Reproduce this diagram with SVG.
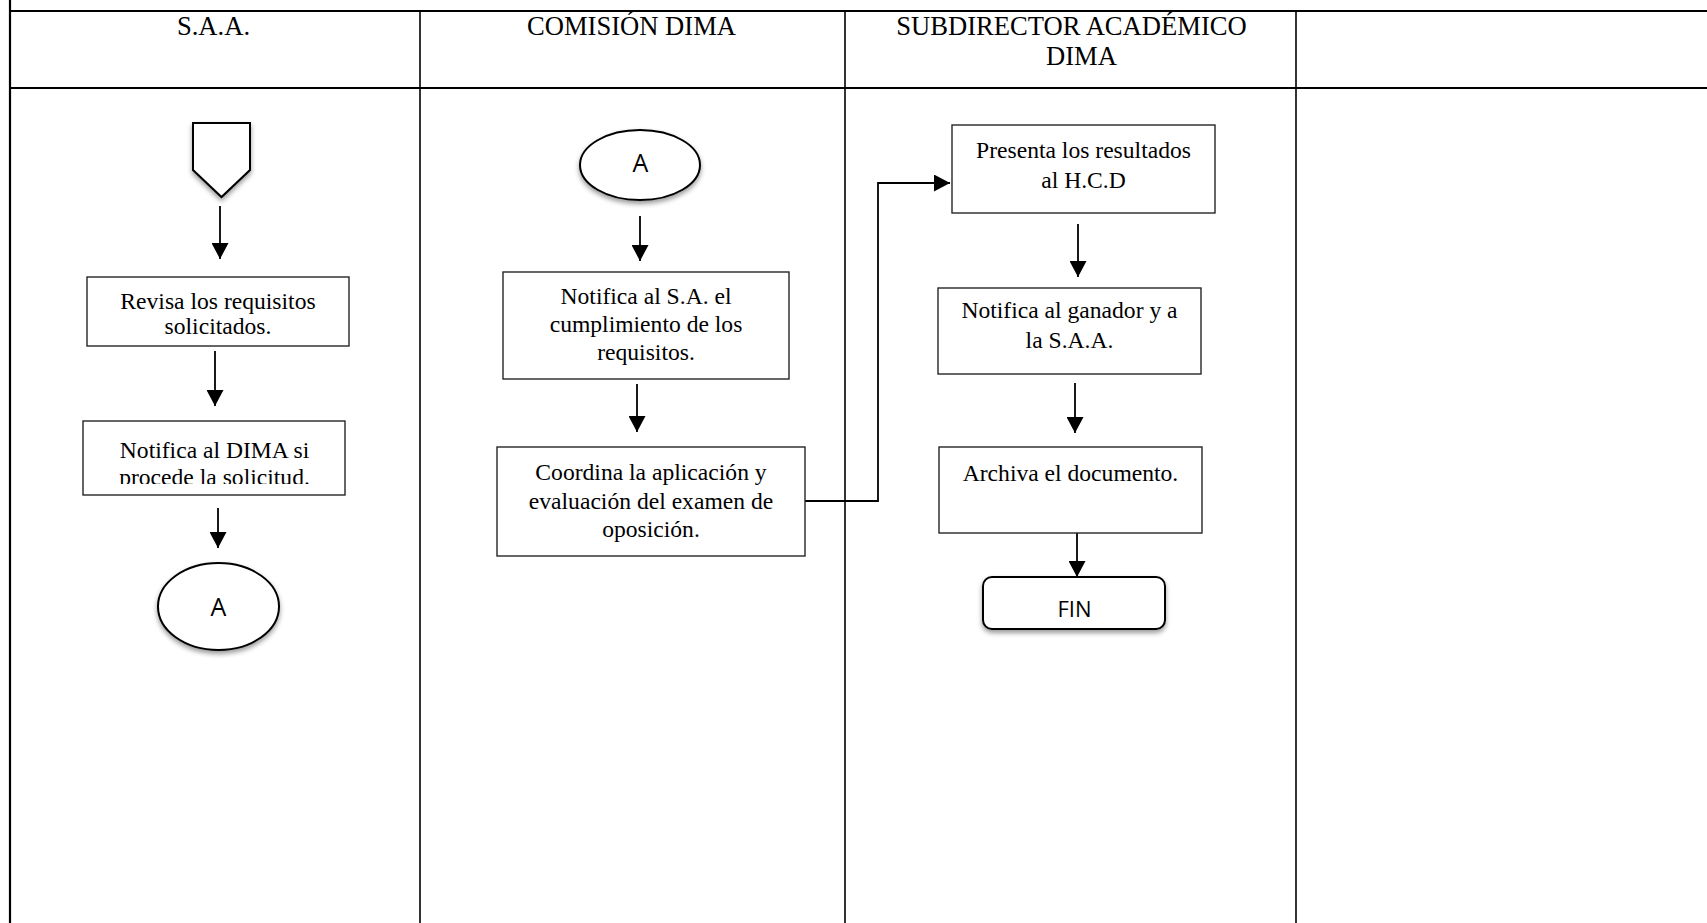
<svg xmlns="http://www.w3.org/2000/svg" width="1707" height="923" viewBox="0 0 1707 923">
  <style>
    .grid { stroke: #000; fill: none; }
    .head { font-family: "Liberation Serif", "Times New Roman", serif; font-size: 26.6px; fill: #000; text-anchor: middle; }
    .box { fill: #fff; stroke: #262626; stroke-width: 1.4; }
    .txt { font-family: "Liberation Serif", "Times New Roman", serif; font-size: 23.6px; fill: #000; text-anchor: middle; }
    .sans { font-family: "Open Sans", "Liberation Sans", sans-serif; font-size: 25px; fill: #000; text-anchor: middle; }
    .term { fill: #fff; stroke: #000; stroke-width: 2; filter: url(#shadow); }
    .conn { fill: none; stroke: #000; stroke-width: 1.8; marker-end: url(#arrow); }
  </style>
  <defs>
    <marker id="arrow" markerUnits="userSpaceOnUse" markerWidth="17" markerHeight="17" refX="16" refY="8.5" orient="auto">
      <path d="M0,0 L16,8.5 L0,17 z" fill="#000"/>
    </marker>
    <filter id="shadow" x="-20%" y="-20%" width="140%" height="150%">
      <feDropShadow dx="0" dy="3" stdDeviation="2.5" flood-color="#000" flood-opacity="0.4"/>
    </filter>
    <clipPath id="clipDima">
      <rect x="83" y="421" width="262" height="63"/>
    </clipPath>
  </defs>

  <rect width="1707" height="923" fill="#fff"/>

  <!-- swimlane table -->
  <g id="table">
    <line class="grid" x1="10" y1="0" x2="10" y2="923" stroke-width="2.2"/>
    <line class="grid" x1="10" y1="11" x2="1707" y2="11" stroke-width="2.2"/>
    <line class="grid" x1="10" y1="88" x2="1707" y2="88" stroke-width="2.2"/>
    <line class="grid" x1="420" y1="11" x2="420" y2="923" stroke-width="1.6"/>
    <line class="grid" x1="845" y1="11" x2="845" y2="923" stroke-width="1.6"/>
    <line class="grid" x1="1296" y1="11" x2="1296" y2="923" stroke-width="1.6"/>
    <text class="head" x="213.5" y="35">S.A.A.</text>
    <text class="head" x="631.5" y="35">COMISIÓN DIMA</text>
    <text class="head" x="1071.5" y="35">SUBDIRECTOR ACADÉMICO</text>
    <text class="head" x="1081.5" y="65">DIMA</text>
  </g>

  <!-- connectors -->
  <g id="connectors">
    <line class="conn" x1="220" y1="206" x2="220" y2="259"/>
    <line class="conn" x1="215" y1="351" x2="215" y2="406"/>
    <line class="conn" x1="218" y1="508" x2="218" y2="548"/>
    <line class="conn" x1="640" y1="216" x2="640" y2="261"/>
    <line class="conn" x1="637" y1="384" x2="637" y2="432"/>
    <path class="conn" d="M805,501 H878 V183 H950"/>
    <line class="conn" x1="1078" y1="224" x2="1078" y2="277"/>
    <line class="conn" x1="1075" y1="383" x2="1075" y2="433"/>
    <line class="conn" x1="1077" y1="533" x2="1077" y2="577"/>
  </g>

  <!-- S.A.A. lane -->
  <g id="start">
    <polygon class="term" points="193,123 250,123 250,170 221.5,197 193,170"/>
  </g>
  <g id="revisa">
    <rect class="box" x="87" y="277" width="262" height="69"/>
    <text class="txt" x="218" y="309">Revisa los requisitos</text>
    <text class="txt" x="218" y="334">solicitados.</text>
  </g>
  <g id="notifica-dima">
    <rect class="box" x="83" y="421" width="262" height="74"/>
    <g clip-path="url(#clipDima)">
      <text class="txt" x="214.5" y="458">Notifica al DIMA si</text>
      <text class="txt" x="214.5" y="485">procede la solicitud.</text>
    </g>
  </g>
  <g id="connector-a-out">
    <ellipse class="term" cx="218.5" cy="606.5" rx="60.5" ry="43.5"/>
    <text class="sans" x="218.5" y="616">A</text>
  </g>

  <!-- COMISIÓN DIMA lane -->
  <g id="connector-a-in">
    <ellipse class="term" cx="640" cy="165" rx="60" ry="35"/>
    <text class="sans" x="640.5" y="172">A</text>
  </g>
  <g id="notifica-sa">
    <rect class="box" x="503" y="272" width="286" height="107"/>
    <text class="txt" x="646" y="304">Notifica al S.A. el</text>
    <text class="txt" x="646" y="332">cumplimiento de los</text>
    <text class="txt" x="646" y="360">requisitos.</text>
  </g>
  <g id="coordina">
    <rect class="box" x="497" y="447" width="308" height="109"/>
    <text class="txt" x="651" y="480">Coordina la aplicación y</text>
    <text class="txt" x="651" y="509">evaluación del examen de</text>
    <text class="txt" x="651" y="537">oposición.</text>
  </g>

  <!-- SUBDIRECTOR ACADÉMICO DIMA lane -->
  <g id="presenta">
    <rect class="box" x="952" y="125" width="263" height="88"/>
    <text class="txt" x="1083.5" y="158">Presenta los resultados</text>
    <text class="txt" x="1083.5" y="188">al H.C.D</text>
  </g>
  <g id="notifica-ganador">
    <rect class="box" x="938" y="288" width="263" height="86"/>
    <text class="txt" x="1069.5" y="318">Notifica al ganador y a</text>
    <text class="txt" x="1069.5" y="348">la S.A.A.</text>
  </g>
  <g id="archiva">
    <rect class="box" x="939" y="447" width="263" height="86"/>
    <text class="txt" x="1070.5" y="481">Archiva el documento.</text>
  </g>
  <g id="fin">
    <rect class="term" x="983" y="577" width="182" height="52" rx="9" ry="9"/>
    <text class="sans" x="1074.5" y="617" style="font-size:22px">FIN</text>
  </g>
</svg>
